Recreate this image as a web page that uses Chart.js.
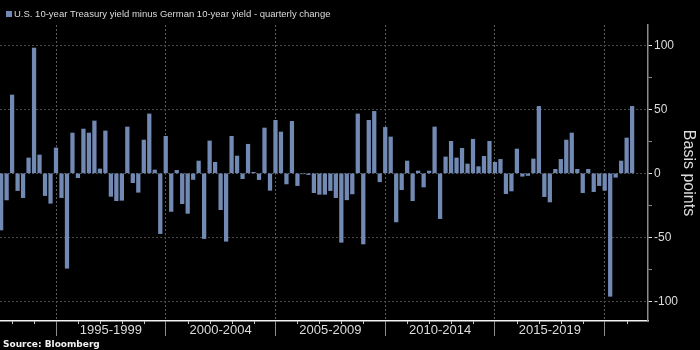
<!DOCTYPE html>
<html>
<head>
<meta charset="utf-8">
<script src="https://cdn.jsdelivr.net/npm/chart.js@4.4.1/dist/chart.umd.min.js"></script>
<style>
html,body{margin:0;padding:0;background:#000;}
canvas{display:block;}
</style>
</head>
<body>
<canvas id="c" width="700" height="350"></canvas>
<script>
const chartTitle = "U.S. 10-year Treasury yield minus German 10-year yield - quarterly change";
const sourceNote = "Source: Bloomberg";
const yAxisTitle = "Basis points";

const quarters = [
  "1992 Q2","1992 Q3","1992 Q4",
  "1993 Q1","1993 Q2","1993 Q3","1993 Q4",
  "1994 Q1","1994 Q2","1994 Q3","1994 Q4",
  "1995 Q1","1995 Q2","1995 Q3","1995 Q4",
  "1996 Q1","1996 Q2","1996 Q3","1996 Q4",
  "1997 Q1","1997 Q2","1997 Q3","1997 Q4",
  "1998 Q1","1998 Q2","1998 Q3","1998 Q4",
  "1999 Q1","1999 Q2","1999 Q3","1999 Q4",
  "2000 Q1","2000 Q2","2000 Q3","2000 Q4",
  "2001 Q1","2001 Q2","2001 Q3","2001 Q4",
  "2002 Q1","2002 Q2","2002 Q3","2002 Q4",
  "2003 Q1","2003 Q2","2003 Q3","2003 Q4",
  "2004 Q1","2004 Q2","2004 Q3","2004 Q4",
  "2005 Q1","2005 Q2","2005 Q3","2005 Q4",
  "2006 Q1","2006 Q2","2006 Q3","2006 Q4",
  "2007 Q1","2007 Q2","2007 Q3","2007 Q4",
  "2008 Q1","2008 Q2","2008 Q3","2008 Q4",
  "2009 Q1","2009 Q2","2009 Q3","2009 Q4",
  "2010 Q1","2010 Q2","2010 Q3","2010 Q4",
  "2011 Q1","2011 Q2","2011 Q3","2011 Q4",
  "2012 Q1","2012 Q2","2012 Q3","2012 Q4",
  "2013 Q1","2013 Q2","2013 Q3","2013 Q4",
  "2014 Q1","2014 Q2","2014 Q3","2014 Q4",
  "2015 Q1","2015 Q2","2015 Q3","2015 Q4",
  "2016 Q1","2016 Q2","2016 Q3","2016 Q4",
  "2017 Q1","2017 Q2","2017 Q3","2017 Q4",
  "2018 Q1","2018 Q2","2018 Q3","2018 Q4",
  "2019 Q1","2019 Q2","2019 Q3","2019 Q4",
  "2020 Q1","2020 Q2","2020 Q3","2020 Q4",
  "2021 Q1"
];

const spreadChange = [
  -44.3, -20.8, 61.2,
  -13.5, -19.0, 12.0, 97.9,
  14.3, -17.4, -23.4, 19.8,
  -19.0, -74.2, 31.5, -3.4,
  34.6, 31.5, 40.9, 3.4,
  33.1, -18.0, -21.4, -21.1,
  36.2, -7.3, -14.8, 26.0,
  46.4, 2.6, -47.1, 28.9,
  -29.8, 2.3, -23.7, -31.3,
  -4.8, 9.6, -51.0, 25.3,
  8.6, -28.4, -53.1, 28.9,
  13.5, -4.2, 22.7, 0.8,
  -4.9, 35.4, -13.3, 41.4,
  32.3, -8.3, 40.6, -9.6,
  -0.4, -1.0, -15.1, -16.4,
  -16.4, -13.5, -19.0, -53.9,
  -20.7, -16.1, 46.4, -55.2,
  41.4, 48.4, -6.6, 35.9,
  28.4, -38.0, -12.8, 9.6,
  -21.4, 1.8, -10.7, 1.8,
  36.2, -35.4, 12.8, 25.0,
  12.0, 19.5, 7.3, 26.6,
  5.2, 13.3, 25.0, 8.6,
  10.9, -15.9, -13.8, 19.0,
  -2.3, -1.7, 11.2, 52.3,
  -18.2, -22.4, 3.1, 10.9,
  26.0, 31.5, 3.1, -15.1,
  3.1, -14.3, -9.6, -13.3,
  -96.1, -3.1, 9.6, 27.6,
  52.3
];

const periodLabels = ["1995-1999", "2000-2004", "2005-2009", "2010-2014", "2015-2019"];
const periodStarts = [1995, 2000, 2005, 2010, 2015, 2020];
const yTickValues = [-100, -75, -50, -25, 0, 25, 50, 75, 100];
const yLabelValues = [-100, -50, 0, 50, 100];

// position of each bar: end of its quarter, in decimal years
const quarterPos = quarters.map(s => {
  const parts = s.split(" Q");
  return Number(parts[0]) + Number(parts[1]) / 4;
});
const periodMid = periodLabels.map((l, i) => periodStarts[i] + 2.5);
const xTickValues = periodStarts.concat(periodMid).sort((a, b) => a - b);

const barColor = "#7189b3";
const textColor = "#dcdcdc";

const decor = {
  id: "decor",
  afterDraw(chart) {
    const ctx = chart.ctx, xs = chart.scales.x, area = chart.chartArea;
    ctx.save();
    ctx.strokeStyle = "#c8c8c8";
    ctx.lineWidth = 1;
    for (let yr = Math.ceil(xs.min); yr <= xs.max; yr++) {
      if (periodStarts.includes(yr)) continue;
      const px = Math.round(xs.getPixelForValue(yr)) + 0.5;
      ctx.beginPath();
      ctx.moveTo(px, area.bottom);
      ctx.lineTo(px, area.bottom + 3);
      ctx.stroke();
    }
    ctx.fillStyle = barColor;
    ctx.fillRect(6, 11, 6, 6);
    ctx.fillStyle = textColor;
    ctx.font = '9.5px "Liberation Sans"';
    ctx.textBaseline = "middle";
    ctx.textAlign = "left";
    ctx.fillText(chartTitle, 14, 14.5);
    ctx.font = 'bold 9px "DejaVu Sans"';
    ctx.fillStyle = "#f2f2f2";
    ctx.fillText(sourceNote, 3, 344.5);
    ctx.restore();
  }
};

Chart.defaults.font.family = '"Liberation Sans", Arial, sans-serif';

new Chart(document.getElementById("c"), {
  type: "bar",
  data: {
    datasets: [{
      label: chartTitle,
      data: quarterPos.map((x, i) => ({ x: x, y: spreadChange[i] })),
      backgroundColor: barColor,
      borderWidth: 0,
      barThickness: 3.6
    }]
  },
  options: {
    responsive: false,
    animation: false,
    devicePixelRatio: 1,
    layout: { padding: { top: 25, left: 0, right: 0, bottom: 0 } },
    plugins: {
      legend: { display: false },
      tooltip: { enabled: false },
      title: { display: false }
    },
    scales: {
      x: {
        type: "linear",
        position: "bottom",
        min: 1992.4485,
        max: 2021.973,
        offset: false,
        afterBuildTicks: s => { s.ticks = xTickValues.map(v => ({ value: v })); },
        afterFit: s => { s.height = 29; },
        ticks: {
          autoSkip: false,
          maxRotation: 0,
          minRotation: 0,
          padding: -13,
          color: textColor,
          font: { size: 13 },
          callback: v => {
            const i = periodMid.indexOf(v);
            return i >= 0 ? periodLabels[i] : "";
          }
        },
        grid: {
          offset: false,
          drawOnChartArea: true,
          drawTicks: true,
          tickLength: 15,
          lineWidth: 1,
          color: c => (c.tick && periodStarts.includes(c.tick.value)) ? "#5a5a5a" : "rgba(0,0,0,0)",
          tickColor: c => (c.tick && periodStarts.includes(c.tick.value)) ? "#8c8c8c" : "rgba(0,0,0,0)"
        },
        border: { display: true, color: "#f2f2f2", width: 1.5, dash: [2, 2] }
      },
      y: {
        position: "right",
        min: -115.4,
        max: 115.9,
        afterBuildTicks: s => { s.ticks = yTickValues.map(v => ({ value: v })); },
        afterFit: s => { s.width = 52; },
        ticks: {
          autoSkip: false,
          padding: 2,
          color: textColor,
          font: { size: 12 },
          callback: v => yLabelValues.includes(v) ? String(v) : ""
        },
        grid: {
          drawOnChartArea: true,
          drawTicks: true,
          tickLength: 4,
          lineWidth: 1,
          color: c => (c.tick && yLabelValues.includes(c.tick.value)) ? "#4a4a4a" : "rgba(0,0,0,0)",
          tickColor: c => (c.tick && yLabelValues.includes(c.tick.value)) ? "#e6e6e6" : "#8a8a8a"
        },
        border: { display: true, color: "#8c8c8c", width: 1.5, dash: [2, 2] },
        title: {
          display: true,
          text: yAxisTitle,
          color: textColor,
          font: { size: 16 },
          padding: { top: 2, bottom: 0 }
        }
      }
    }
  },
  plugins: [decor]
});
</script>
</body>
</html>
